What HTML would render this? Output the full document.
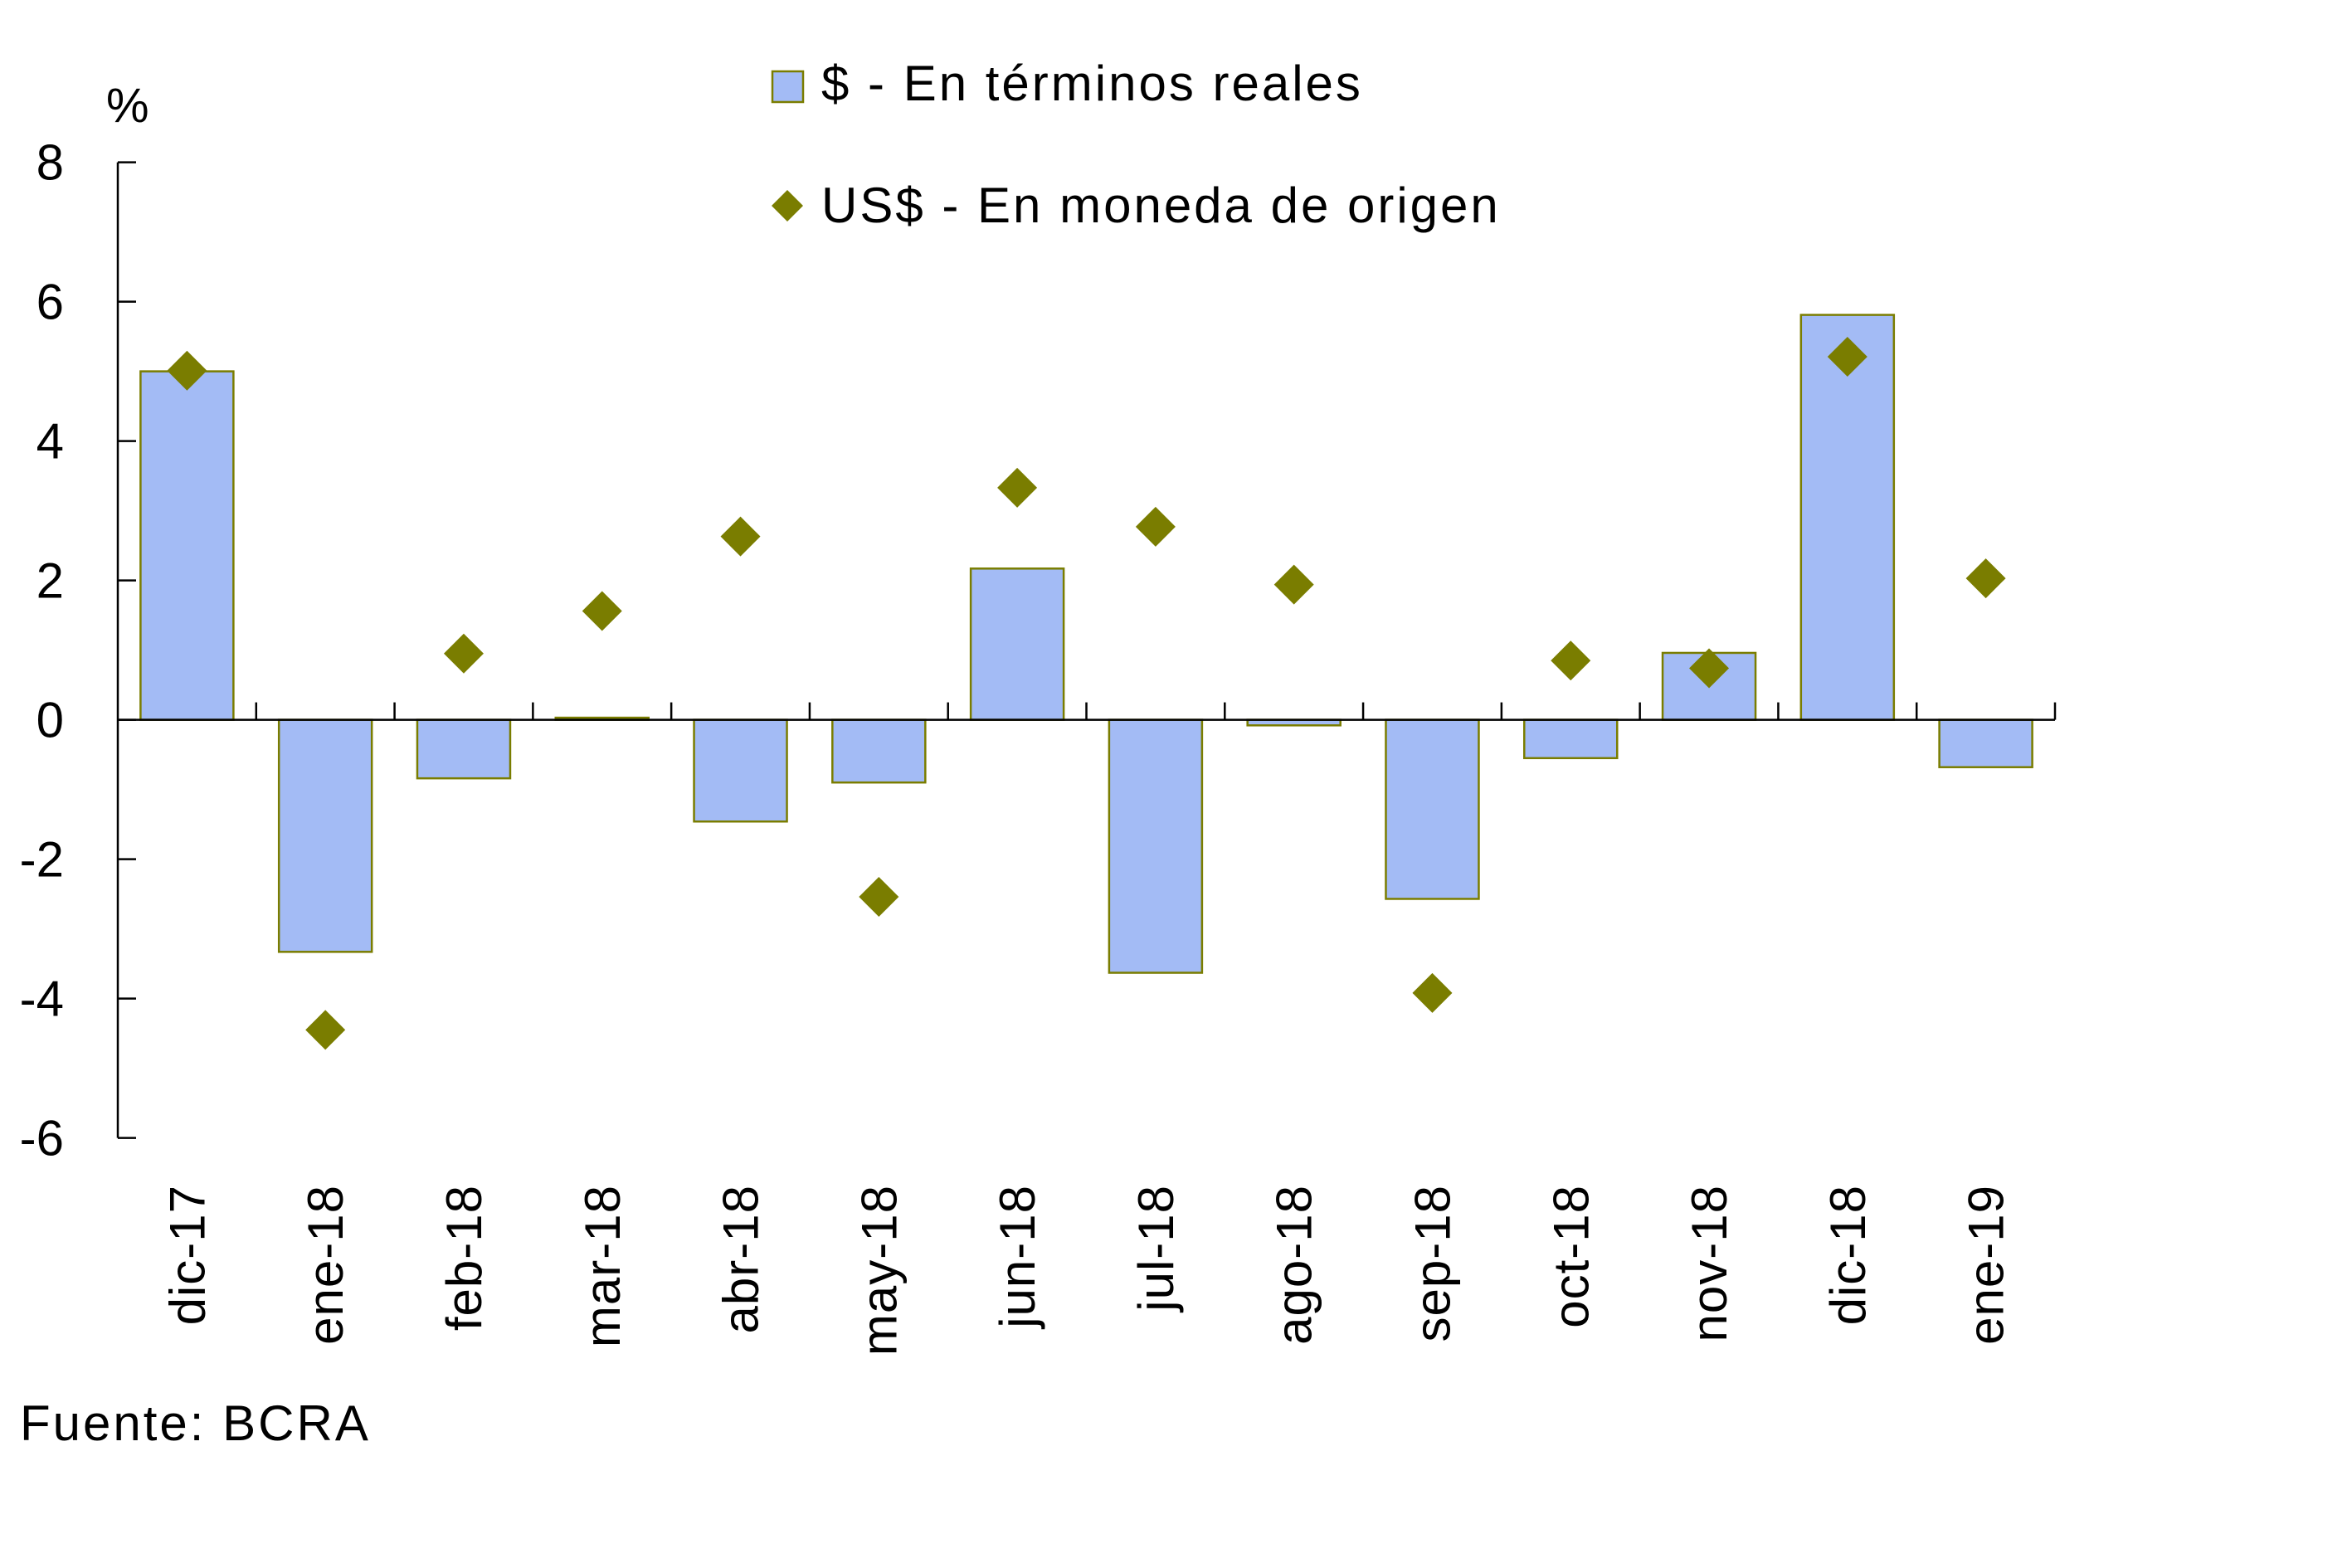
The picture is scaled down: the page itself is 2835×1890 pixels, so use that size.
<!DOCTYPE html>
<html><head><meta charset="utf-8"><style>
html,body{margin:0;padding:0;background:#fff;}
svg{display:block;font-family:"Liberation Sans",sans-serif;}
.w{letter-spacing:3px;}
</style></head><body>
<svg id="chart" width="2835" height="1890" viewBox="0 0 2835 1890" xmlns="http://www.w3.org/2000/svg">
<g id="axes"></g><g id="bars"></g><g id="points"></g>
<text x="128" y="147" font-size="58">%</text>
<g>
<rect x="931" y="86" width="37" height="37" fill="#a3bbf5" stroke="#7a7d00" stroke-width="2.5"/>
<text class="w" x="990" y="121" font-size="60">$ - En términos reales</text>
<polygon points="949,229 968,248 949,267 930,248" fill="#7a7d00"/>
<text class="w" x="990" y="268" font-size="60">US$ - En moneda de origen</text>
</g>
<text class="w" x="24" y="1736" font-size="60">Fuente: BCRA</text>
</svg>
<script>
const categories=["dic-17","ene-18","feb-18","mar-18","abr-18","may-18","jun-18","jul-18","ago-18","sep-18","oct-18","nov-18","dic-18","ene-19"];
const realPesos=[5.0,-3.33,-0.84,0.03,-1.46,-0.9,2.17,-3.63,-0.08,-2.57,-0.55,0.96,5.81,-0.68];
const usdOrigin=[5.01,-4.45,0.95,1.56,2.63,-2.54,3.33,2.77,1.94,-3.92,0.85,0.74,5.21,2.03];
const yTicks=[8,6,4,2,0,-2,-4,-6];
const NS="http://www.w3.org/2000/svg";
const X0=142,X1=2477,Y0=867.6,UNIT=84;
const band=(X1-X0)/categories.length;
const y=v=>Y0-v*UNIT;
const xc=i=>X0+band*(i+0.5);
function mk(tag,attrs,parent,txt){const e=document.createElementNS(NS,tag);for(const k in attrs)e.setAttribute(k,attrs[k]);if(txt!==undefined)e.textContent=txt;parent.appendChild(e);return e;}
const axes=document.getElementById('axes'),bars=document.getElementById('bars'),pts=document.getElementById('points');
let l=mk('line',{x1:X0,x2:X0,y1:y(yTicks[0]),y2:y(yTicks[yTicks.length-1]),stroke:'#000','stroke-width':2.5},axes);


yTicks.forEach(t=>{
 const tk=mk('line',{x1:X0,x2:X0+22,y1:y(t),y2:y(t),stroke:'#000','stroke-width':2.5},axes);
 
 
 const tx=mk('text',{x:77,y:y(t)+21,'font-size':60,'text-anchor':'end'},axes,String(t));
 
 
});
categories.forEach((c,i)=>{
 const v=realPesos[i];
 const r=mk('rect',{x:xc(i)-56,width:112,y:Math.min(y(v),Y0),height:Math.abs(y(v)-Y0),fill:'#a3bbf5',stroke:'#7a7d00','stroke-width':2.5},bars);
 
 
 const u=usdOrigin[i],cx=xc(i),cy=y(u);
 const p=mk('polygon',{points:`${cx},${cy-24} ${cx+24},${cy} ${cx},${cy+24} ${cx-24},${cy}`,fill:'#7a7d00'},pts);
 
 
 const tx=mk('text',{transform:`translate(${cx+21},1428) rotate(-90)`,'font-size':60,'text-anchor':'end','letter-spacing':1},axes,c);
 
 
 const tk=mk('line',{x1:X0+band*(i+1),x2:X0+band*(i+1),y1:Y0,y2:Y0-21,stroke:'#000','stroke-width':2.5},axes);
 
 
});
const zl=mk('line',{x1:X0,x2:X1,y1:Y0,y2:Y0,stroke:'#000','stroke-width':2.5},pts);


</script>
</body></html>
